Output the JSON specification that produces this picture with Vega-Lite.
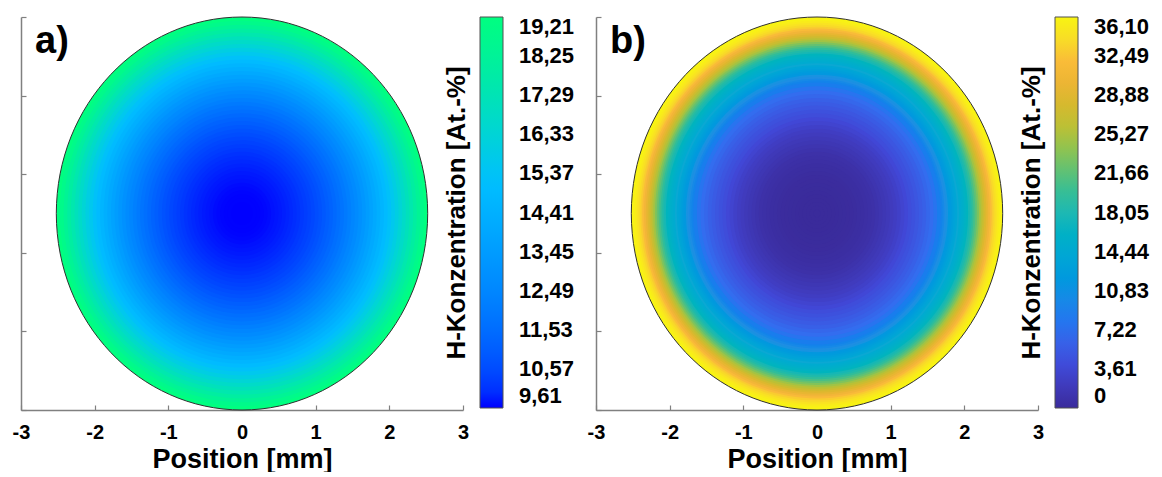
{
  "$schema": "https://vega.github.io/schema/vega-lite/v6.json",
  "padding": {"left": 12, "top": 15, "right": 0, "bottom": 0},
  "spacing": 12,
  "config": {
    "font": "Liberation Sans",
    "view": {"stroke": null},
    "axis": {
      "grid": false,
      "domainColor": "#808080",
      "domainWidth": 1.5,
      "tickColor": "#808080",
      "tickWidth": 1.2,
      "tickSize": -5,
      "labelFontSize": 20,
      "labelFontWeight": "bold",
      "labelColor": "#000000",
      "labelPadding": 17,
      "titleFontSize": 27,
      "titleFontWeight": "bold",
      "titleColor": "#000000",
      "titlePadding": 4
    },
    "legend": {
      "titleOrient": "left",
      "titleAnchor": "middle",
      "titleFontSize": 26,
      "titleFontWeight": "bold",
      "titleColor": "#000000",
      "titlePadding": 9,
      "titleLimit": 500,
      "gradientLength": 391,
      "gradientThickness": 23,
      "gradientStrokeColor": "#505050",
      "gradientStrokeWidth": 1,
      "labelFontSize": 22,
      "labelFontWeight": "bold",
      "labelColor": "#000000",
      "labelOffset": 16,
      "labelBaseline": "middle",
      "labelOverlap": false,
      "labelLimit": 200,
      "offset": -19
    }
  },
  "datasets": {
    "probeA": [
      {"r": 2.55, "h": 19.21}, {"r": 2.5, "h": 18.77}, {"r": 2.45, "h": 18.34}, {"r": 2.4, "h": 17.92},
      {"r": 2.35, "h": 17.51}, {"r": 2.3, "h": 17.12}, {"r": 2.25, "h": 16.73}, {"r": 2.2, "h": 16.36},
      {"r": 2.15, "h": 15.99}, {"r": 2.1, "h": 15.64}, {"r": 2.05, "h": 15.3}, {"r": 2.0, "h": 14.97},
      {"r": 1.95, "h": 14.65}, {"r": 1.9, "h": 14.34}, {"r": 1.85, "h": 14.04}, {"r": 1.8, "h": 13.75},
      {"r": 1.75, "h": 13.47}, {"r": 1.7, "h": 13.2}, {"r": 1.65, "h": 12.94}, {"r": 1.6, "h": 12.69},
      {"r": 1.55, "h": 12.45}, {"r": 1.5, "h": 12.22}, {"r": 1.45, "h": 12.0}, {"r": 1.4, "h": 11.79},
      {"r": 1.35, "h": 11.59}, {"r": 1.3, "h": 11.4}, {"r": 1.25, "h": 11.22}, {"r": 1.2, "h": 11.05},
      {"r": 1.15, "h": 10.89}, {"r": 1.1, "h": 10.74}, {"r": 1.05, "h": 10.6}, {"r": 1.0, "h": 10.47},
      {"r": 0.95, "h": 10.36}, {"r": 0.9, "h": 10.25}, {"r": 0.85, "h": 10.15}, {"r": 0.8, "h": 10.06},
      {"r": 0.75, "h": 9.98}, {"r": 0.7, "h": 9.91}, {"r": 0.65, "h": 9.85}, {"r": 0.6, "h": 9.8},
      {"r": 0.55, "h": 9.75}, {"r": 0.5, "h": 9.72}, {"r": 0.45, "h": 9.69}, {"r": 0.4, "h": 9.66},
      {"r": 0.35, "h": 9.64}, {"r": 0.3, "h": 9.63}, {"r": 0.25, "h": 9.62}, {"r": 0.2, "h": 9.62},
      {"r": 0.15, "h": 9.61}, {"r": 0.1, "h": 9.61}, {"r": 0.05, "h": 9.61}
    ],
    "probeB": [
      {"r": 2.55, "h": 36.1}, {"r": 2.525, "h": 35.8}, {"r": 2.5, "h": 35.3}, {"r": 2.475, "h": 34.6},
      {"r": 2.45, "h": 33.8}, {"r": 2.425, "h": 32.9}, {"r": 2.4, "h": 31.9}, {"r": 2.375, "h": 30.8},
      {"r": 2.35, "h": 29.6}, {"r": 2.325, "h": 28.4}, {"r": 2.3, "h": 27.2}, {"r": 2.275, "h": 25.9},
      {"r": 2.25, "h": 24.6}, {"r": 2.225, "h": 23.3}, {"r": 2.2, "h": 22.0}, {"r": 2.175, "h": 20.8},
      {"r": 2.15, "h": 19.7}, {"r": 2.125, "h": 18.7}, {"r": 2.1, "h": 17.8}, {"r": 2.075, "h": 17.0},
      {"r": 2.05, "h": 16.4}, {"r": 2.025, "h": 15.8}, {"r": 2.0, "h": 15.3}, {"r": 1.975, "h": 14.8},
      {"r": 1.95, "h": 14.3}, {"r": 1.925, "h": 13.9}, {"r": 1.9, "h": 13.4}, {"r": 1.875, "h": 12.9},
      {"r": 1.85, "h": 12.3}, {"r": 1.825, "h": 11.8}, {"r": 1.8, "h": 11.2}, {"r": 1.775, "h": 10.6},
      {"r": 1.75, "h": 10.0}, {"r": 1.725, "h": 9.3}, {"r": 1.7, "h": 8.7}, {"r": 1.65, "h": 7.8},
      {"r": 1.6, "h": 7.1}, {"r": 1.55, "h": 6.5}, {"r": 1.5, "h": 5.9}, {"r": 1.45, "h": 5.4},
      {"r": 1.4, "h": 4.9}, {"r": 1.35, "h": 4.5}, {"r": 1.3, "h": 4.1}, {"r": 1.25, "h": 3.6},
      {"r": 1.2, "h": 3.2}, {"r": 1.15, "h": 2.75}, {"r": 1.1, "h": 2.4}, {"r": 1.05, "h": 2.1},
      {"r": 1.0, "h": 1.8}, {"r": 0.95, "h": 1.55}, {"r": 0.9, "h": 1.3}, {"r": 0.85, "h": 1.05},
      {"r": 0.8, "h": 0.85}, {"r": 0.75, "h": 0.7}, {"r": 0.7, "h": 0.55}, {"r": 0.65, "h": 0.45},
      {"r": 0.6, "h": 0.35}, {"r": 0.55, "h": 0.27}, {"r": 0.5, "h": 0.2}, {"r": 0.45, "h": 0.15},
      {"r": 0.4, "h": 0.1}, {"r": 0.35, "h": 0.07}, {"r": 0.3, "h": 0.05}, {"r": 0.25, "h": 0.03},
      {"r": 0.2, "h": 0.02}, {"r": 0.15, "h": 0.01}, {"r": 0.1, "h": 0.0}, {"r": 0.05, "h": 0.0}
    ]
  },
  "hconcat": [
    {
      "width": 442,
      "height": 393,
      "layer": [
        {
          "data": {"name": "probeA"},
          "mark": {"type": "point", "shape": "M -0.945 0 A 0.945 1 0 1 1 0.945 0 A 0.945 1 0 1 1 -0.945 0 Z", "filled": true, "opacity": 1, "strokeWidth": 0},
          "encoding": {
            "x": {"datum": 0, "type": "quantitative", "scale": {"domain": [-3, 3], "nice": false},
                  "axis": {"values": [-3, -2, -1, 0, 1, 2, 3], "labelExpr": "'' + datum.value", "title": "Position [mm]", "labelFlush": false}},
            "y": {"datum": 0, "type": "quantitative", "scale": {"domain": [-2.65, 2.65], "nice": false},
                  "axis": {"values": [-2.65, -2.12, -1.59, -1.06, -0.53, 0, 0.53, 1.06, 1.59, 2.12, 2.65], "labels": false, "title": null}},
            "size": {"field": "r", "type": "quantitative", "scale": {"type": "pow", "exponent": 2, "domain": [0, 2.55], "range": [0, 154449]}, "legend": null},
            "color": {"field": "h", "type": "quantitative",
                      "scale": {"domain": [9.61, 19.21], "range": ["#0000ff", "#00ff80"]},
                      "legend": {"title": "H-Konzentration  [At.-%]",
                                 "labelOffset": 16,
                                 "titleLimit": 500,
                                 "values": [9.61, 10.57, 11.53, 12.49, 13.45, 14.41, 15.37, 16.33, 17.29, 18.25, 19.21],
                                 "labelExpr": "replace(format(datum.value, '.2f'), '.', ',')"}},
            "order": {"field": "r", "sort": "descending"}
          }
        },
        {
          "data": {"name": "probeA"},
          "transform": [{"filter": "datum.r == 2.55"}],
          "mark": {"type": "point", "shape": "M -0.945 0 A 0.945 1 0 1 1 0.945 0 A 0.945 1 0 1 1 -0.945 0 Z", "filled": false, "stroke": "#303030", "strokeWidth": 1, "opacity": 1},
          "encoding": {
            "x": {"datum": 0, "type": "quantitative"},
            "y": {"datum": 0, "type": "quantitative"},
            "size": {"field": "r", "type": "quantitative", "legend": null}
          }
        },
        {
          "data": {"values": [{}]},
          "mark": {"type": "text", "align": "left", "baseline": "alphabetic", "fontSize": 38, "fontWeight": "bold", "color": "#000000"},
          "encoding": {
            "x": {"datum": -2.81, "type": "quantitative"},
            "y": {"datum": 2.17, "type": "quantitative"},
            "text": {"value": "a)"}
          }
        }
      ]
    },
    {
      "width": 442,
      "height": 393,
      "layer": [
        {
          "data": {"name": "probeB"},
          "mark": {"type": "point", "shape": "M -0.945 0 A 0.945 1 0 1 1 0.945 0 A 0.945 1 0 1 1 -0.945 0 Z", "filled": true, "opacity": 1, "strokeWidth": 0},
          "encoding": {
            "x": {"datum": 0, "type": "quantitative", "scale": {"domain": [-3, 3], "nice": false},
                  "axis": {"values": [-3, -2, -1, 0, 1, 2, 3], "labelExpr": "'' + datum.value", "title": "Position [mm]", "labelFlush": false}},
            "y": {"datum": 0, "type": "quantitative", "scale": {"domain": [-2.65, 2.65], "nice": false},
                  "axis": {"values": [-2.65, -2.12, -1.59, -1.06, -0.53, 0, 0.53, 1.06, 1.59, 2.12, 2.65], "labels": false, "title": null}},
            "size": {"field": "r", "type": "quantitative", "scale": {"type": "pow", "exponent": 2, "domain": [0, 2.55], "range": [0, 154449]}, "legend": null},
            "color": {"field": "h", "type": "quantitative",
                      "scale": {"domain": [0, 3.61, 7.22, 10.83, 14.44, 18.05, 21.66, 25.27, 28.88, 31.5, 33.6, 36.1],
                                "range": ["#3a2b9b", "#4147d6", "#336ef0", "#2290e2", "#10a9d2", "#1eb8b2", "#5cc078", "#b2c23a", "#e2b62e", "#f8b43c", "#f8d82a", "#f8f412"]},
                      "legend": {"title": "H-Konzentration  [At.-%]",
                                 "labelOffset": 16,
                                 "titleLimit": 500,
                                 "values": [0, 3.61, 7.22, 10.83, 14.44, 18.05, 21.66, 25.27, 28.88, 32.49, 36.1],
                                 "labelExpr": "datum.value == 0 ? '0' : replace(format(datum.value, '.2f'), '.', ',')"}},
            "order": {"field": "r", "sort": "descending"}
          }
        },
        {
          "data": {"name": "probeB"},
          "transform": [{"filter": "datum.r == 2.55"}],
          "mark": {"type": "point", "shape": "M -0.945 0 A 0.945 1 0 1 1 0.945 0 A 0.945 1 0 1 1 -0.945 0 Z", "filled": false, "stroke": "#303030", "strokeWidth": 1, "opacity": 1},
          "encoding": {
            "x": {"datum": 0, "type": "quantitative"},
            "y": {"datum": 0, "type": "quantitative"},
            "size": {"field": "r", "type": "quantitative", "legend": null}
          }
        },
        {
          "data": {"values": [{}]},
          "mark": {"type": "text", "align": "left", "baseline": "alphabetic", "fontSize": 38, "fontWeight": "bold", "color": "#000000"},
          "encoding": {
            "x": {"datum": -2.81, "type": "quantitative"},
            "y": {"datum": 2.17, "type": "quantitative"},
            "text": {"value": "b)"}
          }
        }
      ]
    }
  ],
  "resolve": {"scale": {"color": "independent", "size": "independent", "x": "independent", "y": "independent"}, "legend": {"color": "independent"}}
}
